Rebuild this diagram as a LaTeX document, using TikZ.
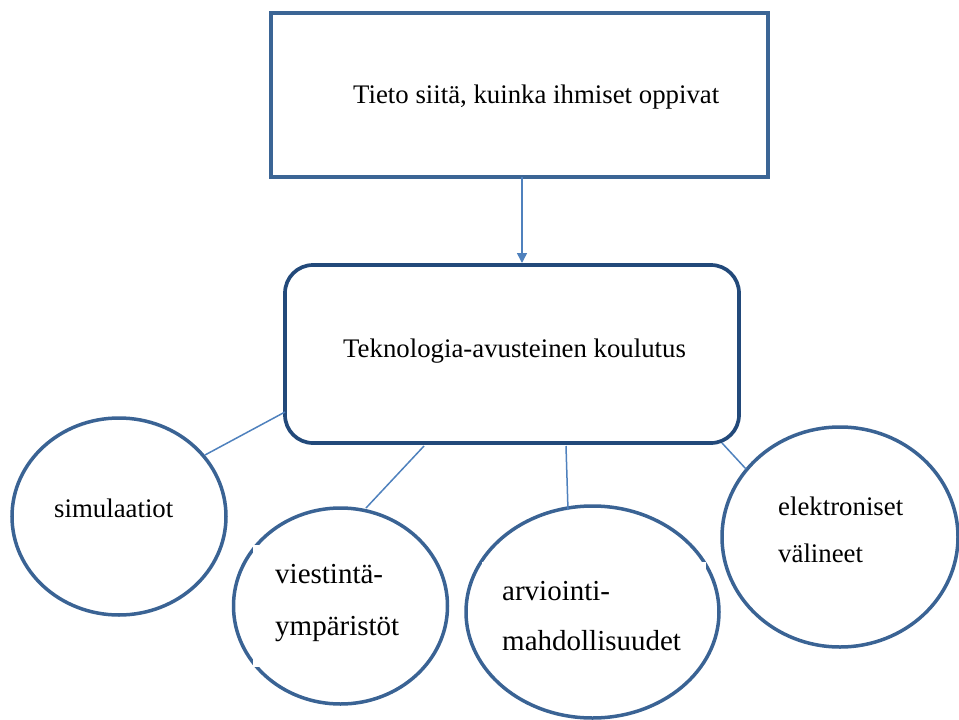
\documentclass[tikz,border=0pt]{standalone}
\usepackage{fontspec}
\setmainfont{Liberation Serif}
\definecolor{boxblue}{HTML}{3B6595}
\definecolor{darkblue}{HTML}{22497A}
\definecolor{ovalblue}{HTML}{3A6394}
\definecolor{linkblue}{HTML}{4F81BD}
\tikzset{
  topbox/.style={draw=boxblue, line width=3.3pt, rectangle, inner sep=0pt},
  mainbox/.style={draw=darkblue, line width=3.7pt, rectangle, rounded corners=28pt, inner sep=0pt},
  oval/.style={draw=ovalblue, line width=3.5pt, ellipse, inner sep=0pt},
  link/.style={draw=linkblue, line width=1.5pt},
  lbl/.style={inner sep=0pt, anchor=base west, font=\fontsize{26.8}{30}\selectfont},
  lblb/.style={inner sep=0pt, anchor=base west, font=\fontsize{29}{32}\selectfont},
  mask/.style={fill=white, draw=none},
}
\usetikzlibrary{shapes.geometric,arrows.meta}
\begin{document}
\begin{tikzpicture}[x=1pt, y=-1pt]
  \useasboundingbox (0,0) rectangle (959,720);

  % top box and the rounded box below it
  \node[topbox, minimum width=497pt, minimum height=164pt] (know) at (519.5,95) {};
  \node[mainbox, minimum width=454pt, minimum height=178pt] (tech) at (512,354) {};

  % the four ovals
  \node[oval, minimum width=214pt, minimum height=197pt] (sim) at (119,516.5) {};
  \node[oval, minimum width=214pt, minimum height=196pt] (comm) at (340.5,606) {};
  \node[oval, minimum width=253pt, minimum height=212pt] (eval) at (592.5,612) {};
  \node[oval, minimum width=236pt, minimum height=220pt] (elec) at (840,537) {};

  % white text frames that cut into the oval outlines
  \fill[mask] (253,545) rectangle (415,667);
  \fill[mask] (482,562) rectangle (706,650);

  % labels
  \node[lbl] (knowtxt) at (353,103) {Tieto siitä, kuinka ihmiset oppivat};
  \node[lbl] (techtxt) at (343,357) {Teknologia-avusteinen koulutus};
  \node[lbl] (simtxt) at (54,517) {simulaatiot};
  \node[lblb] (comm1) at (275,583) {viestintä-};
  \node[lblb] (comm2) at (275,635) {ympäristöt};
  \node[lblb] (eval1) at (502,600) {arviointi-};
  \node[lblb] (eval2) at (502,650) {mahdollisuudet};
  \node[lbl] (elec1) at (778,515) {elektroniset};
  \node[lbl] (elec2) at (778,562) {välineet};

  % connector from the top box
  \coordinate (a1) at (522,177);
  \coordinate (a2) at (522,263);
  \draw[link, -{Triangle[width=10pt,length=10pt]}, fill=linkblue] (a1) -- (a2);

  % branches to the ovals
  \coordinate (s1) at (285,412); \coordinate (s2) at (205,455);
  \coordinate (c1) at (424,446); \coordinate (c2) at (366,508);
  \coordinate (e1) at (566,446); \coordinate (e2) at (568,510);
  \coordinate (l1) at (722,443); \coordinate (l2) at (746,469);
  \draw[link] (s1) -- (s2);
  \draw[link] (c1) -- (c2);
  \draw[link] (e1) -- (e2);
  \draw[link] (l1) -- (l2);
\end{tikzpicture}
\end{document}
